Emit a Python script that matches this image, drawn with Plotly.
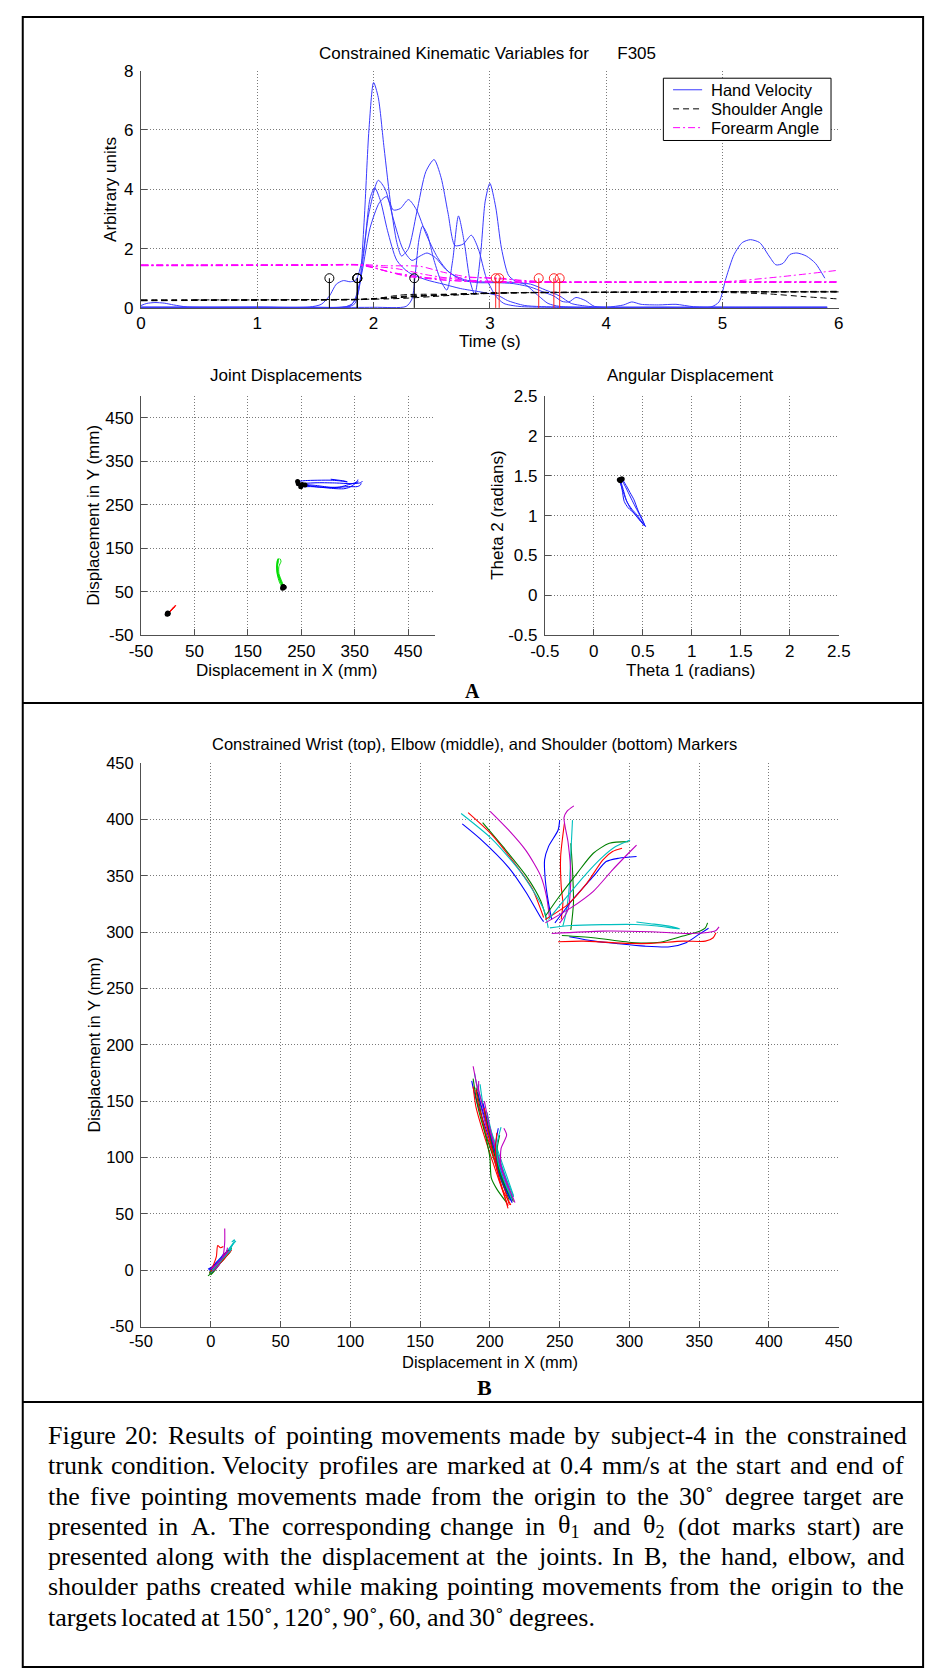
import plotly.graph_objects as go

SANS = "Liberation Sans, Arial, Helvetica, sans-serif"
SERIF = "Liberation Serif, Times New Roman, Times, serif"

# ---------------------------------------------------------------------------
# Panel A (top): kinematic variables against time
# ---------------------------------------------------------------------------
time_ticks = [0, 1, 2, 3, 4, 5, 6]
vel_ticks = [0, 2, 4, 6, 8]

hv1_t = [0.0, 0.5, 1.0, 1.5, 1.78, 1.84, 1.88, 1.92, 1.96, 2.0, 2.04, 2.09, 2.15, 2.2, 2.24, 2.3, 2.37, 2.45,
         2.52, 2.58, 2.64, 2.7, 2.77, 2.84, 2.9, 2.97, 3.05, 3.12, 3.25, 3.5, 4.0, 4.5, 5.0, 5.5, 5.9]
hv1_v = [0.02, 0.02, 0.02, 0.02, 0.03, 0.15, 0.8, 3.0, 6.0, 7.6, 7.1, 5.4, 3.4, 2.2, 1.75, 2.0, 3.2, 4.6,
         5.0, 4.4, 3.2, 2.1, 2.15, 2.45, 2.0, 1.0, 0.4, 0.15, 0.05, 0.02, 0.02, 0.02, 0.02, 0.02, 0.02]

hv2_t = [0.0, 0.05, 0.12, 0.2, 0.28, 0.4, 1.0, 1.45, 1.55, 1.62, 1.68, 1.74, 1.8, 1.85, 1.9, 1.96, 2.04, 2.1,
         2.17, 2.25, 2.33, 2.4, 2.46, 2.53, 2.62, 2.75, 2.9, 3.05, 3.2, 3.35, 3.45, 3.55, 3.62, 3.68, 3.74,
         3.82, 3.9, 4.2, 4.6, 5.0, 5.5, 5.9]
hv2_v = [0.08, 0.15, 0.18, 0.16, 0.1, 0.03, 0.02, 0.03, 0.12, 0.4, 0.8, 0.92, 0.88, 0.95, 1.6, 3.2, 4.3, 4.0,
         3.0, 2.0, 1.6, 1.75, 1.85, 1.7, 1.3, 0.95, 0.85, 0.85, 0.82, 0.7, 0.55, 0.4, 0.22, 0.2, 0.35,
         0.25, 0.05, 0.02, 0.02, 0.02, 0.02, 0.02]

hv3_t = [0.0, 1.0, 1.7, 1.8, 1.86, 1.92, 1.97, 2.01, 2.06, 2.12, 2.2, 2.3, 2.45, 2.6, 2.75, 2.9, 3.0, 3.08,
         3.15, 3.3, 3.6, 4.0, 4.15, 4.22, 4.3, 4.45, 4.6, 4.75, 5.0, 5.5, 5.9]
hv3_v = [0.02, 0.02, 0.02, 0.08, 0.4, 2.0, 3.7, 4.05, 3.6, 2.6, 1.6, 1.2, 0.95, 0.8, 0.65, 0.55, 0.48, 0.4,
         0.25, 0.08, 0.03, 0.02, 0.1, 0.2, 0.12, 0.1, 0.12, 0.04, 0.02, 0.02, 0.02]

hv4_t = [0.0, 1.0, 2.0, 2.28, 2.33, 2.36, 2.39, 2.42, 2.46, 2.52, 2.58, 2.63, 2.68, 2.73, 2.78, 2.83, 2.87,
         2.92, 2.96, 3.0, 3.05, 3.1, 3.16, 3.22, 3.3, 3.42, 3.5, 3.6, 4.0, 5.0, 5.9]
hv4_v = [0.02, 0.02, 0.02, 0.05, 0.3, 1.2, 2.3, 2.75, 2.5, 1.6, 0.9, 0.6, 1.6, 3.1, 2.2, 0.9, 0.45,
         1.8, 3.6, 4.2, 3.4, 2.0, 1.1, 0.9, 0.8, 0.4, 0.15, 0.05, 0.02, 0.02, 0.02]

hv5_t = [0.0, 1.0, 1.75, 1.82, 1.85, 1.9, 1.97, 2.05, 2.11, 2.17, 2.23, 2.3, 2.37, 2.45, 2.55, 2.65, 2.78,
         2.9, 3.05, 3.2, 3.35, 3.48, 3.6, 3.7, 3.85, 4.0, 4.5, 4.9, 4.97, 5.03, 5.1, 5.17, 5.24, 5.32, 5.4,
         5.46, 5.52, 5.58, 5.64, 5.72, 5.8, 5.88]
hv5_v = [0.02, 0.02, 0.03, 0.15, 0.4, 1.2, 2.7, 3.55, 3.75, 3.3, 3.35, 3.65, 3.3, 2.5, 1.7, 1.2, 0.95,
         0.88, 0.87, 0.86, 0.8, 0.6, 0.4, 0.15, 0.05, 0.02, 0.02, 0.03, 0.2, 1.0, 1.8, 2.2, 2.3, 2.2, 1.75,
         1.45, 1.5, 1.8, 1.85, 1.75, 1.5, 1.0]

sa1_t = [0.0, 0.5, 1.0, 1.5, 1.85, 2.0, 2.15, 2.3, 2.5, 2.7, 2.9, 3.1, 3.4, 4.0, 4.5, 5.0, 5.5, 6.0]
sa1_v = [0.24, 0.25, 0.26, 0.27, 0.28, 0.31, 0.36, 0.4, 0.43, 0.46, 0.49, 0.51, 0.52, 0.53, 0.53, 0.53, 0.53, 0.53]
sa2_t = [0.0, 0.5, 1.0, 1.5, 1.9, 2.05, 2.2, 2.3, 2.45, 2.6, 2.8, 3.0, 3.3, 4.0, 4.5, 5.0, 5.5, 6.0]
sa2_v = [0.27, 0.27, 0.27, 0.27, 0.28, 0.33, 0.42, 0.45, 0.46, 0.46, 0.48, 0.5, 0.51, 0.52, 0.54, 0.55, 0.55, 0.55]
sa3_t = [0.0, 0.5, 1.0, 1.5, 1.85, 2.0, 2.2, 2.4, 2.6, 2.8, 3.0, 3.3, 4.0, 4.5, 5.0, 5.4, 5.7, 6.0]
sa3_v = [0.26, 0.26, 0.27, 0.27, 0.28, 0.3, 0.34, 0.39, 0.43, 0.46, 0.49, 0.51, 0.52, 0.53, 0.52, 0.47, 0.38, 0.3]
sa4_t = [0.45, 1.0, 1.5, 1.9, 2.1, 2.3, 2.5, 2.7, 2.9, 3.1, 3.5, 4.0, 4.5, 5.0, 5.5, 6.0]
sa4_v = [0.27, 0.27, 0.28, 0.29, 0.3, 0.33, 0.38, 0.43, 0.47, 0.5, 0.52, 0.53, 0.54, 0.54, 0.54, 0.54]
sa5_t = [0.0, 0.5, 1.0, 1.5, 1.88, 2.05, 2.25, 2.45, 2.65, 2.85, 3.05, 3.3, 4.0, 4.5, 5.0, 5.5, 6.0]
sa5_v = [0.25, 0.26, 0.27, 0.28, 0.29, 0.32, 0.37, 0.41, 0.45, 0.48, 0.5, 0.52, 0.53, 0.53, 0.55, 0.55, 0.56]

fa1_t = [0.0, 0.5, 1.0, 1.5, 1.85, 1.95, 2.05, 2.2, 2.35, 2.55, 2.75, 3.0, 3.5, 4.0, 5.0, 6.0]
fa1_v = [1.44, 1.44, 1.44, 1.45, 1.45, 1.4, 1.3, 1.15, 1.05, 0.95, 0.9, 0.87, 0.87, 0.87, 0.87, 0.87]
fa2_t = [0.0, 0.5, 1.0, 1.5, 1.88, 2.0, 2.2, 2.45, 2.7, 3.0, 3.5, 4.0, 5.0, 6.0]
fa2_v = [1.43, 1.43, 1.44, 1.44, 1.46, 1.4, 1.32, 1.12, 0.97, 0.9, 0.87, 0.87, 0.88, 0.88]
fa3_t = [0.0, 0.5, 1.0, 1.5, 1.9, 2.1, 2.4, 2.6, 2.8, 3.0, 3.2, 3.5, 4.0, 5.0, 5.5, 6.0]
fa3_v = [1.42, 1.42, 1.43, 1.44, 1.46, 1.42, 1.4, 1.2, 1.05, 1.0, 0.95, 0.88, 0.87, 0.88, 1.05, 1.27]
fa4_t = [0.0, 0.5, 1.0, 1.5, 1.9, 2.1, 2.3, 2.5, 2.8, 3.1, 3.3, 3.6, 4.0, 5.0, 6.0]
fa4_v = [1.45, 1.45, 1.45, 1.45, 1.45, 1.25, 1.05, 1.0, 1.02, 1.0, 0.9, 0.87, 0.87, 0.86, 0.86]
fa5_t = [0.0, 0.5, 1.0, 1.5, 1.87, 2.0, 2.15, 2.35, 2.6, 2.9, 3.2, 4.0, 5.0, 6.0]
fa5_v = [1.44, 1.44, 1.44, 1.44, 1.44, 1.35, 1.2, 1.08, 0.95, 0.88, 0.86, 0.86, 0.87, 0.87]

# movement onset / offset times and the height of their stem markers
onset_times = [1.62, 1.86, 1.86, 1.86, 2.35]
offset_times = [3.05, 3.08, 3.42, 3.55, 3.60]
stem_height = 1.0

series_names = ["Hand Velocity", "Shoulder Angle", "Forearm Angle"]

# ---------------------------------------------------------------------------
# Marker paths (mm), five trials per target direction, trial order b, g, r, c, m
# ---------------------------------------------------------------------------
wrist_ul_x = [[238.5, 236.4, 226.0, 213.5, 192.7, 180.2],
              [240.6, 236.4, 226.0, 209.4, 194.8],
              [238.5, 230.2, 217.7, 201.0, 184.4],
              [241.8, 238.5, 221.9, 201.0, 179.4],
              [242.7, 240.6, 236.4, 226.0, 213.5, 200.2]]
wrist_ul_y = [[309.3, 313.0, 335.2, 357.3, 383.2, 396.1],
              [311.2, 327.8, 349.9, 375.8, 397.2],
              [313.0, 338.9, 361.0, 386.9, 406.0],
              [303.8, 320.4, 353.6, 383.2, 405.3],
              [313.0, 331.5, 349.9, 372.1, 390.5, 407.2]]

wrist_up_x = [[244.3, 242.0, 239.7, 239.2, 242.0, 248.9, 250.0],
              [258.0, 259.9, 259.2, 258.0],
              [251.1, 252.3, 251.1, 250.7, 253.4],
              [252.3, 254.6, 256.9, 258.0, 259.2],
              [250.0, 256.0, 258.0, 256.0, 253.1, 255.2, 260.2]]
wrist_up_y = [[311.2, 325.9, 346.5, 364.1, 375.9, 390.6, 399.4],
              [301.9, 325.9, 355.3, 378.8],
              [311.2, 325.9, 340.6, 367.1, 396.5],
              [305.3, 317.1, 340.6, 370.0, 399.4],
              [308.0, 320.0, 350.0, 380.0, 401.6, 407.2, 412.0]]

wrist_ur_x = [[246.6, 260.3, 274.1, 283.3, 292.4, 305.1],
              [239.7, 248.9, 262.6, 274.1, 285.6, 299.3],
              [239.7, 255.7, 269.5, 281.0, 287.9, 294.7],
              [242.0, 253.4, 269.5, 281.0, 290.1, 300.5],
              [239.7, 258.0, 274.1, 287.9, 299.3, 305.1]]
wrist_ur_y = [[308.2, 330.3, 349.4, 362.6, 365.6, 367.1],
              [314.1, 330.3, 352.4, 370.0, 378.8, 380.3],
              [311.2, 324.4, 343.5, 364.1, 371.5, 374.4],
              [311.2, 328.8, 352.4, 367.0, 375.9, 381.8],
              [308.2, 321.5, 336.2, 355.3, 370.0, 377.3]]

wrist_r_x = [[256.9, 275.0, 292.4, 310.8, 329.0, 340.6, 349.8, 356.7],
             [251.6, 274.0, 303.9, 322.0, 338.3, 349.8, 354.4, 356.0],
             [248.9, 267.0, 299.3, 315.4, 338.3, 354.4, 360.0, 362.0],
             [243.0, 258.0, 303.9, 320.0, 336.0, 330.0, 315.0, 305.0],
             [244.3, 281.0, 315.4, 342.9, 359.0, 362.0, 364.2]]
wrist_r_y = [[295.9, 292.0, 289.7, 287.6, 287.0, 290.6, 298.0, 303.5],
             [297.0, 295.0, 290.6, 291.0, 296.5, 300.6, 303.8, 308.2],
             [291.5, 292.0, 290.0, 290.0, 292.0, 292.0, 295.0, 299.4],
             [303.8, 305.9, 306.8, 305.5, 302.9, 305.0, 307.5, 309.0],
             [298.8, 300.9, 300.3, 298.8, 300.3, 301.5, 304.7]]

elbow_ul_x = [[215, 209, 203, 197, 191, 188, 187], [214, 208, 202, 196, 191, 188],
              [213, 207, 201, 195, 190, 188], [217, 211, 205, 199, 194, 190, 189],
              [216, 210, 204, 198, 193, 190, 188]]
elbow_ul_y = [[63, 82, 104, 126, 148, 162, 168], [62, 80, 102, 124, 147, 170],
              [57, 78, 100, 123, 145, 163], [65, 84, 106, 128, 150, 168, 175],
              [61, 80, 102, 125, 148, 168, 181]]
elbow_up_x = [[216, 211, 205, 199, 194, 191], [212, 205, 201, 200, 196, 192, 190],
              [214, 209, 203, 197, 192, 190], [217, 212, 206, 200, 195, 193],
              [216, 211, 205, 200, 195, 192, 192]]
elbow_up_y = [[64, 82, 103, 125, 145, 158], [60, 72, 82, 100, 125, 150, 162],
              [58, 78, 100, 123, 146, 160], [66, 84, 105, 127, 148, 165],
              [62, 81, 102, 122, 145, 160, 168]]
elbow_ur_x = [[215, 210, 205, 200, 197, 195], [214, 208, 203, 199, 196],
              [213, 209, 204, 200, 197, 196], [216, 211, 205, 201, 198],
              [215, 211, 206, 201, 198, 196]]
elbow_ur_y = [[62, 80, 100, 120, 138, 148], [65, 84, 104, 124, 142],
              [55, 72, 94, 116, 134, 144], [63, 82, 103, 123, 140],
              [63, 80, 100, 121, 138, 150]]
elbow_r_x = [[216, 210, 205, 204, 206], [217, 211, 206, 205, 207],
             [215, 209, 205, 204, 205], [216, 211, 206, 205, 208],
             [218, 213, 208, 208, 212, 210]]
elbow_r_y = [[60, 75, 93, 110, 126], [61, 74, 91, 106, 120],
             [58, 72, 90, 107, 122], [62, 77, 95, 111, 127],
             [60, 75, 92, 108, 120, 126]]

shoulder_ul_x = [[-1, 1, 4, 7, 9, 11], [-1, 2, 5, 8, 10, 12], [1, 3, 6, 9, 11, 13],
                 [0, 3, 6, 10, 13, 16], [0, 2, 5, 8, 10, 12]]
shoulder_ul_y = [[0, 3, 7, 11, 14, 16], [-3, 1, 6, 10, 13, 16], [0, 3, 6, 9, 12, 15],
                 [0, 4, 9, 14, 19, 24], [-2, 2, 6, 10, 14, 18]]
shoulder_up_x = [[-2, 1, 4, 7, 10, 12], [0, 3, 6, 9, 12, 15], [-1, 2, 5, 8, 10, 12],
                 [0, 3, 7, 11, 14, 18], [0, 3, 6, 9, 11, 12]]
shoulder_up_y = [[1, 3, 6, 10, 14, 18], [-4, 0, 5, 10, 15, 20], [-2, 2, 6, 10, 14, 17],
                 [-1, 3, 8, 14, 20, 26], [-3, 1, 5, 10, 15, 20]]
shoulder_ur_x = [[-1, 2, 5, 8, 11, 13], [-2, 1, 4, 8, 11, 13], [0, 2, 4, 5, 7, 9],
                 [0, 4, 8, 12, 15, 17, 15], [1, 4, 7, 9, 10, 10]]
shoulder_ur_y = [[0, 2, 6, 10, 14, 17], [-5, -2, 3, 8, 13, 18], [0, 5, 12, 22, 20, 21],
                 [-2, 3, 9, 15, 21, 27, 25], [-1, 2, 7, 14, 25, 37]]
shoulder_r_x = [[0, 3, 6, 9, 12, 14], [-1, 2, 5, 9, 12, 14], [0, 3, 7, 10, 13, 15],
                [1, 4, 7, 10, 13, 15], [0, 3, 6, 9, 11, 13]]
shoulder_r_y = [[0, 3, 7, 11, 15, 18], [-2, 1, 5, 10, 14, 16], [-1, 3, 7, 11, 15, 18],
                [0, 4, 8, 12, 16, 19], [1, 4, 8, 12, 15, 17]]

# joint angles (rad) for the five movements to the 30 degree target
theta1_paths = [[0.27, 0.30, 0.33, 0.37, 0.43, 0.49, 0.52],
                [0.28, 0.32, 0.36, 0.40, 0.45, 0.50, 0.53],
                [0.27, 0.29, 0.31, 0.35, 0.42, 0.48, 0.52],
                [0.29, 0.33, 0.37, 0.41, 0.45, 0.50, 0.52],
                [0.26, 0.30, 0.34, 0.39, 0.44, 0.49, 0.51]]
theta2_paths = [[1.45, 1.33, 1.20, 1.10, 1.00, 0.91, 0.87],
                [1.46, 1.37, 1.27, 1.17, 1.05, 0.93, 0.86],
                [1.44, 1.32, 1.18, 1.10, 1.02, 0.93, 0.87],
                [1.46, 1.38, 1.29, 1.20, 1.07, 0.94, 0.88],
                [1.45, 1.30, 1.17, 1.08, 1.01, 0.92, 0.88]]

joint_ticks = [-50, 50, 150, 250, 350, 450]
angle_ticks = [-0.5, 0, 0.5, 1, 1.5, 2, 2.5]
angle_tick_text = ["-0.5", "0", "0.5", "1", "1.5", "2", "2.5"]
marker_ticks = [-50, 0, 50, 100, 150, 200, 250, 300, 350, 400, 450]

caption_lines = [
    "Figure 20: Results of pointing movements made by subject-4 in the constrained",
    "trunk condition. Velocity profiles are marked at 0.4 mm/s at the start and end of",
    "the five pointing movements made from the origin to the 30\u02da degree target are",
    "presented in A. The corresponding change in \u03b8<sub>1</sub> and \u03b8<sub>2</sub> (dot marks start) are",
    "presented along with the displacement at the joints. In B, the hand, elbow, and",
    "shoulder paths created while making pointing movements from the origin to the",
    "targets located at 150\u02da, 120\u02da, 90\u02da, 60, and 30\u02da degrees.",
]

# ---------------------------------------------------------------------------
# Styling helpers
# ---------------------------------------------------------------------------
W, H = 940, 1680
TRIAL_COLORS = ["#0000ff", "#008000", "#ff0000", "#00bfbf", "#bf00bf"]
VEL_BLUE = "#3a3aff"
SERIES_STYLE = [(VEL_BLUE, "solid"), ("black", "6px,4px"), ("#ff00ff", "7px,3px,2px,3px")]
AX = "#505050"
GRID = "#7a7a7a"


def fx(p):
    return p / W


def fy(p):
    return 1 - p / H


def axis(font_size, standoff, **kw):
    base = dict(showline=True, linecolor=AX, linewidth=1, mirror=False,
                ticks="inside", ticklen=6, tickwidth=1, tickcolor=AX,
                showgrid=True, gridcolor=GRID, griddash="1px,2px", gridwidth=1,
                zeroline=False, ticklabelstandoff=standoff,
                tickfont=dict(family=SANS, size=font_size, color="black"))
    base.update(kw)
    return base


fig = go.Figure()


def add_line(x, y, color, xa, ya, width=1.0, dash="solid", shape="spline", name=None):
    line = dict(color=color, width=width, dash=dash, shape=shape)
    if shape == "spline":
        line["smoothing"] = 0.7
    fig.add_trace(go.Scatter(x=x, y=y, mode="lines", line=line, xaxis=xa, yaxis=ya,
                             name=name, showlegend=False, hoverinfo="skip"))


# --- top panel ---
series_data = [
    [(hv1_t, hv1_v), (hv2_t, hv2_v), (hv3_t, hv3_v), (hv4_t, hv4_v), (hv5_t, hv5_v)],
    [(sa1_t, sa1_v), (sa2_t, sa2_v), (sa3_t, sa3_v), (sa4_t, sa4_v), (sa5_t, sa5_v)],
    [(fa1_t, fa1_v), (fa2_t, fa2_v), (fa3_t, fa3_v), (fa4_t, fa4_v), (fa5_t, fa5_v)],
]
for name, (color, dash), curves in zip(series_names, SERIES_STYLE, series_data):
    for t, v in curves:
        add_line(t, v, color, "x", "y", dash=dash, name=name)


def stems(times, color):
    xs, ys = [], []
    for t in times:
        xs += [t, t, None]
        ys += [0, stem_height, None]
    fig.add_trace(go.Scatter(x=xs, y=ys, mode="lines", line=dict(color=color, width=1),
                             xaxis="x", yaxis="y", showlegend=False, hoverinfo="skip"))
    fig.add_trace(go.Scatter(x=times, y=[stem_height] * len(times), mode="markers",
                             marker=dict(symbol="circle-open", size=9, color=color,
                                         line=dict(width=1, color=color)),
                             xaxis="x", yaxis="y", showlegend=False, hoverinfo="skip"))


stems(onset_times, "black")
stems(offset_times, "#ff2020")

# --- joint displacement panel (30 degree target) ---
for xs, ys in zip(wrist_r_x, wrist_r_y):
    add_line(xs, ys, "#0000ff", "x2", "y2")
for xs, ys in zip(elbow_r_x, elbow_r_y):
    add_line(xs, ys, "#00dd00", "x2", "y2")
for xs, ys in zip(shoulder_r_x, shoulder_r_y):
    add_line(xs, ys, "#ff0000", "x2", "y2")
start_x = [p[0] for p in wrist_r_x + elbow_r_x + shoulder_r_x]
start_y = [p[0] for p in wrist_r_y + elbow_r_y + shoulder_r_y]
fig.add_trace(go.Scatter(x=start_x, y=start_y, mode="markers",
                         marker=dict(color="black", size=5, symbol="circle"),
                         xaxis="x2", yaxis="y2", showlegend=False, hoverinfo="skip"))

# --- angular displacement panel ---
for xs, ys in zip(theta1_paths, theta2_paths):
    add_line(xs, ys, "#1a1aff", "x3", "y3")
fig.add_trace(go.Scatter(x=[p[0] for p in theta1_paths], y=[p[0] for p in theta2_paths],
                         mode="markers", marker=dict(color="black", size=5),
                         xaxis="x3", yaxis="y3", showlegend=False, hoverinfo="skip"))

# --- panel B: all marker paths ---
for gx, gy in [(wrist_ul_x, wrist_ul_y), (wrist_up_x, wrist_up_y), (wrist_ur_x, wrist_ur_y),
               (wrist_r_x, wrist_r_y), (elbow_ul_x, elbow_ul_y), (elbow_up_x, elbow_up_y),
               (elbow_ur_x, elbow_ur_y), (elbow_r_x, elbow_r_y), (shoulder_ul_x, shoulder_ul_y),
               (shoulder_up_x, shoulder_up_y), (shoulder_ur_x, shoulder_ur_y),
               (shoulder_r_x, shoulder_r_y)]:
    for k, (xs, ys) in enumerate(zip(gx, gy)):
        add_line(xs, ys, TRIAL_COLORS[k], "x4", "y4", width=1.1)

# ---------------------------------------------------------------------------
# Layout
# ---------------------------------------------------------------------------
joint_text = [str(v) for v in joint_ticks]
marker_text = [str(v) for v in marker_ticks]

fig.update_layout(
    width=W, height=H, margin=dict(l=0, r=0, t=0, b=0),
    paper_bgcolor="white", plot_bgcolor="white", showlegend=False,
    xaxis=axis(17, 0, domain=[fx(130), fx(850)], range=[0, 6], tickvals=time_ticks, anchor="y"),
    yaxis=axis(17, 3, domain=[fy(302.3), fy(62.3)], range=[0, 8], tickvals=vel_ticks, anchor="x"),
    xaxis2=axis(17, 0, domain=[fx(130), fx(433.3)], range=[-50, 500], tickvals=joint_ticks,
                ticktext=joint_text, anchor="y2"),
    yaxis2=axis(17, 3, domain=[fy(633.3), fy(391.7)], range=[-50, 500], tickvals=joint_ticks,
                ticktext=joint_text, anchor="x2"),
    xaxis3=axis(17, 0, domain=[fx(546.7), fx(850)], range=[-0.5, 2.5], tickvals=angle_ticks,
                ticktext=angle_tick_text, anchor="y3"),
    yaxis3=axis(17, 3, domain=[fy(633.3), fy(391.7)], range=[-0.5, 2.5], tickvals=angle_ticks,
                ticktext=angle_tick_text, anchor="x3"),
    xaxis4=axis(16.5, 0, domain=[fx(130), fx(850)], range=[-50, 450], tickvals=marker_ticks,
                ticktext=marker_text, anchor="y4"),
    yaxis4=axis(16.5, 3, domain=[fy(1332.7), fy(762.7)], range=[-50, 450], tickvals=marker_ticks,
                ticktext=marker_text, anchor="x4"),
)

ann = []


def label(text, x, y, size=17, angle=0, family=SANS, xanchor="center"):
    ann.append(dict(text=text, x=fx(x), y=fy(y), xref="paper", yref="paper",
                    showarrow=False, xanchor=xanchor, yanchor="middle", textangle=angle,
                    borderpad=0, font=dict(family=family, size=size, color="black")))


label("Constrained Kinematic Variables for \u00a0\u00a0\u00a0\u00a0\u00a0F305", 488, 45)
label("Time (s)", 490, 336)
label("Arbitrary units", 99, 182, angle=-90)
label("Joint Displacements", 280, 371)
label("Displacement in X (mm)", 280, 669)
label("Displacement in Y (mm)", 81, 512, angle=-90)
label("Angular Displacement", 697, 371)
label("Theta 1 (radians)", 697, 669)
label("Theta 2 (radians)", 498, 512, angle=-90)
label("<b>A</b>", 472, 690, size=20, family=SERIF)
label("Constrained Wrist (top), Elbow (middle), and Shoulder (bottom) Markers", 474, 743, size=16.5)
label("Displacement in X (mm)", 490, 1368, size=16.5)
label("Displacement in Y (mm)", 82, 1048, size=16.5, angle=-90)
label("<b>B</b>", 484, 1394, size=22, family=SERIF)

# legend box for the top panel: a sample line and the series name per row
LEG_BOX = (669, 842, 70, 133)
LEG_ROWS = [81.7, 101, 120]
legend_shapes = [dict(type="rect", xref="paper", yref="paper", x0=fx(LEG_BOX[0]), x1=fx(LEG_BOX[1]),
                      y0=fy(LEG_BOX[3]), y1=fy(LEG_BOX[2]), line=dict(color="black", width=1),
                      fillcolor="white", layer="above")]
for name, (color, dash), ry in zip(series_names, SERIES_STYLE, LEG_ROWS):
    legend_shapes.append(dict(type="line", xref="paper", yref="paper", x0=fx(679), x1=fx(709),
                              y0=fy(ry), y1=fy(ry), layer="above",
                              line=dict(color=color, width=1, dash=dash)))
    label(name, 717, ry, size=16.5, xanchor="left")

# caption, justified word by word using Times advance widths
TIMES_ADV = {" ": 250, "(": 333, ")": 333, ",": 250, "-": 333, ".": 250, "/": 278, ":": 278,
             "A": 722, "B": 667, "F": 556, "I": 333, "R": 667, "T": 611, "V": 722,
             "a": 444, "b": 500, "c": 444, "d": 500, "e": 444, "f": 333, "g": 500, "h": 500,
             "i": 278, "j": 278, "k": 500, "l": 278, "m": 778, "n": 500, "o": 500, "p": 500,
             "q": 500, "r": 333, "s": 389, "t": 278, "u": 500, "v": 500, "w": 722, "x": 500,
             "y": 500, "z": 444, "\u02da": 333, "\u03b8": 500}
CAP_SIZE = 26
CAP_LEFT, CAP_RIGHT = 33, 915.5
CAP_BASE0, CAP_STEP = 1451.7, 30.6


def word_width(word):
    total, scale, i = 0.0, 1.0, 0
    while i < len(word):
        if word.startswith("<sub>", i):
            scale, i = 0.7, i + 5
            continue
        if word.startswith("</sub>", i):
            scale, i = 1.0, i + 6
            continue
        total += TIMES_ADV.get(word[i], 500) * scale
        i += 1
    return total * CAP_SIZE / 1000.0


for li, line in enumerate(caption_lines):
    words = line.split(" ")
    widths = [word_width(w) for w in words]
    justify = li < len(caption_lines) - 1
    if justify:
        gap = (CAP_RIGHT - CAP_LEFT - sum(widths)) / (len(words) - 1)
    else:
        gap = 250 * CAP_SIZE / 1000.0
    yc = CAP_BASE0 + li * CAP_STEP - 0.3375 * CAP_SIZE
    xpos = CAP_LEFT
    for w, ww in zip(words, widths):
        label(w, xpos, yc, size=CAP_SIZE, family=SERIF, xanchor="left")
        xpos += ww + gap

fig.update_layout(annotations=ann)

# outer frame and panel dividers, then the legend box on top
frame = dict(color="black", width=2)
fig.update_layout(shapes=[
    dict(type="rect", xref="paper", yref="paper", x0=fx(8), x1=fx(937), y0=fy(1677), y1=fy(8), line=frame),
    dict(type="line", xref="paper", yref="paper", x0=fx(8), x1=fx(937), y0=fy(702), y1=fy(702), line=frame),
    dict(type="line", xref="paper", yref="paper", x0=fx(8), x1=fx(937), y0=fy(1409), y1=fy(1409), line=frame),
] + legend_shapes)

fig.write_html("out.html")
